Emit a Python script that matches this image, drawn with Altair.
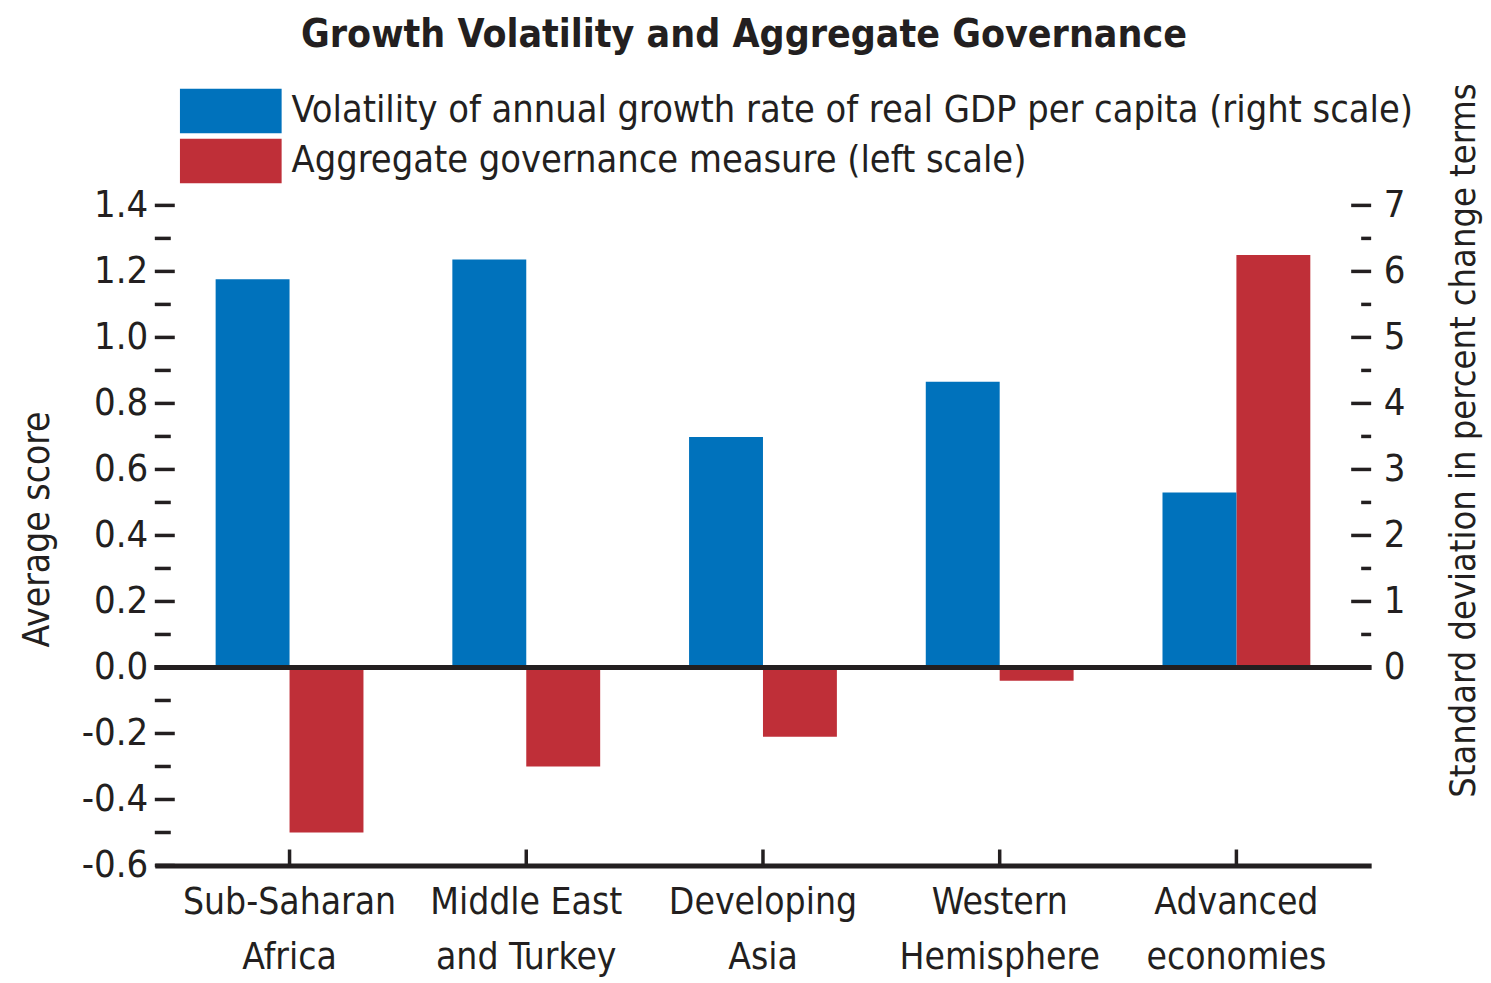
import altair as alt
import pandas as pd

# ---------------- data ----------------
categories = ["Sub-Saharan Africa", "Middle East and Turkey", "Developing Asia",
              "Western Hemisphere", "Advanced economies"]
label_lines = [["Sub-Saharan", "Africa"], ["Middle East", "and Turkey"],
               ["Developing", "Asia"], ["Western", "Hemisphere"],
               ["Advanced", "economies"]]
series = ["Volatility of annual growth rate of real GDP per capita (right scale)",
          "Aggregate governance measure (left scale)"]
volatility = [5.88, 6.18, 3.49, 4.33, 2.65]      # right scale
governance = [-0.50, -0.30, -0.21, -0.04, 1.25]  # left scale
colors = ["#0072BC", "#BF2F38"]

left_major = [-0.6, -0.4, -0.2, 0.0, 0.2, 0.4, 0.6, 0.8, 1.0, 1.2, 1.4]
left_minor = [-0.5, -0.3, -0.1, 0.1, 0.3, 0.5, 0.7, 0.9, 1.1, 1.3]
right_major = [0, 1, 2, 3, 4, 5, 6, 7]
right_minor = [0.5, 1.5, 2.5, 3.5, 4.5, 5.5, 6.5]

FONT = "Liberation Sans Narrow, DejaVu Sans Condensed, Liberation Sans, Arial, sans-serif"
BLACK = "#231F20"
W, H = 1218, 661
LEFT_DOMAIN = [-0.6, 1.4]
RIGHT_DOMAIN = [-3, 7]
FS = 38

blue_df = pd.DataFrame({"cat": categories, "series": series[0], "value": volatility})
red_df = pd.DataFrame({"cat": categories, "series": series[1], "value": governance})
cat_df = pd.DataFrame({"cat": categories})
lmaj_df = pd.DataFrame({"value": left_major})
lmin_df = pd.DataFrame({"value": left_minor})
rmaj_df = pd.DataFrame({"value": right_major})
rmin_df = pd.DataFrame({"value": right_minor})

label_expr = ""
for c, lines in zip(categories, label_lines):
    label_expr += "datum.label === '%s' ? ['%s', '%s'] : " % (c, lines[0], lines[1])
label_expr += "datum.label"

x_enc = alt.X("cat:N", sort=categories,
              scale=alt.Scale(paddingInner=0.3755, paddingOuter=0.257),
              axis=alt.Axis(title=None, ticks=False, domain=True, domainWidth=5,
                            domainColor=BLACK, labelAngle=0, labelPadding=19,
                            labelLineHeight=55, labelFontSize=37, labelFont=FONT,
                            labelColor=BLACK, labelBaseline="top", labelLimit=0,
                            labelExpr=label_expr, grid=False))
xoff_enc = alt.XOffset("series:N", scale=alt.Scale(domain=series, paddingInner=0, paddingOuter=0))

legend = alt.Legend(orient="none", legendX=25, legendY=-117, title=None,
                    symbolType="M-1,-0.441L1,-0.441L1,0.441L-1,0.441Z",
                    symbolSize=10404, symbolStrokeWidth=0, symbolOpacity=1,
                    labelFontSize=37.7, labelFont=FONT, labelColor=BLACK,
                    labelOffset=10, labelLimit=0, clipHeight=45, rowPadding=5,
                    padding=0, direction="vertical")
color_enc = alt.Color("series:N", scale=alt.Scale(domain=series, range=colors), legend=legend)

left_axis = alt.Axis(orient="left", values=left_major, ticks=False, domain=False,
                     grid=False, labelPadding=7, labelOverlap=False,
                     labelFontSize=FS, labelFont=FONT, labelColor=BLACK,
                     labelExpr="replace(format(datum.value, '.1f'), '\u2212', '-')",
                     title="Average score", titleFont=FONT, titleFontSize=37,
                     titleFontWeight="normal", titleColor=BLACK, titleAngle=270,
                     titleX=-117, titleY=324, titleAlign="center",
                     titleBaseline="middle")
right_axis = alt.Axis(orient="right", values=right_major, ticks=False, domain=False,
                      grid=False, labelPadding=12, labelOverlap=False, format="d",
                      labelFontSize=FS, labelFont=FONT, labelColor=BLACK,
                      title="Standard deviation in percent change terms",
                      titleFont=FONT, titleFontSize=36, titleFontWeight="normal",
                      titleColor=BLACK, titleAngle=270, titleX=92, titleY=235,
                      titleAlign="center", titleBaseline="middle")

def ly():
    return alt.Y("value:Q", scale=alt.Scale(domain=LEFT_DOMAIN, nice=False, zero=False),
                 axis=left_axis)

def ry():
    return alt.Y("value:Q", scale=alt.Scale(domain=RIGHT_DOMAIN, nice=False, zero=False),
                 axis=right_axis)

# ---------------- left (governance) ----------------
red_bars = alt.Chart(red_df).mark_bar().encode(
    x=x_enc, xOffset=xoff_enc, color=color_enc, y=ly())
left_major_ticks = alt.Chart(lmaj_df).mark_rule(color=BLACK, strokeWidth=3.5).encode(
    y=ly(), x=alt.value(0), x2=alt.value(20))
left_minor_ticks = alt.Chart(lmin_df).mark_rule(color=BLACK, strokeWidth=3.5).encode(
    y=ly(), x=alt.value(0), x2=alt.value(16))
left_layer = alt.layer(red_bars, left_major_ticks, left_minor_ticks)

# ---------------- right (volatility) ----------------
blue_bars = alt.Chart(blue_df).mark_bar().encode(
    x=x_enc, xOffset=xoff_enc, color=color_enc, y=ry())
right_major_ticks = alt.Chart(rmaj_df).mark_rule(color=BLACK, strokeWidth=3.5).encode(
    y=ry(), x=alt.value(W - 20), x2=alt.value(W))
right_minor_ticks = alt.Chart(rmin_df).mark_rule(color=BLACK, strokeWidth=3.5).encode(
    y=ry(), x=alt.value(W - 10), x2=alt.value(W))
zero_line = alt.Chart(cat_df).mark_rule(color=BLACK, strokeWidth=5).encode(
    y=alt.datum(0))
cat_ticks = alt.Chart(cat_df).mark_rule(color=BLACK, strokeWidth=3.5).encode(
    x=alt.X("cat:N", sort=categories, bandPosition=0.5),
    y=alt.value(H - 16), y2=alt.value(H))
right_layer = alt.layer(blue_bars, right_major_ticks, right_minor_ticks, zero_line, cat_ticks)

chart = alt.layer(left_layer, right_layer).resolve_scale(y="independent").properties(
    width=W, height=H,
    title=alt.TitleParams("Growth Volatility and Aggregate Governance", font=FONT,
                          fontSize=39, fontWeight="bold", color=BLACK,
                          anchor="middle", dx=-19, dy=-24),
    autosize="none",
    padding={"left": 147, "top": 197, "right": 112, "bottom": 116},
).configure(font=FONT).configure_view(stroke="transparent", strokeWidth=0)

chart.save("out.html", embed_options={"renderer": "svg", "actions": False})
